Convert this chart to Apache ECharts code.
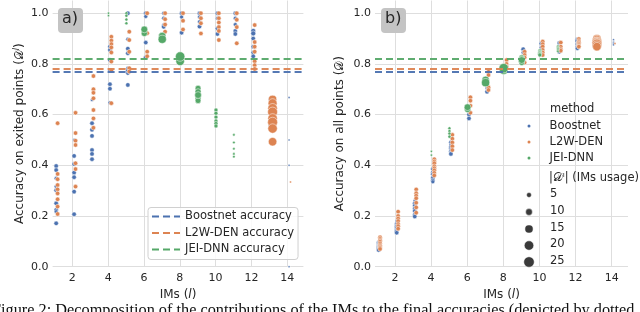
<!DOCTYPE html>
<html><head><meta charset="utf-8">
<script src="https://cdn.jsdelivr.net/npm/echarts@6/dist/echarts.min.js"></script>
<style>html,body{margin:0;padding:0;background:#fff}#c{width:640px;height:312px}</style>
</head><body><div id="c"></div>
<script>
const methods = ['Boostnet', 'L2W-DEN', 'JEI-DNN'];
const finalAccuracy = [0.772, 0.779, 0.819];
const accuracyNames = ['Boostnet accuracy', 'L2W-DEN accuracy', 'JEI-DNN accuracy'];
const xTicks = [2, 4, 6, 8, 10, 12, 14];
const yTicks = [0, 0.2, 0.4, 0.6, 0.8, 1.0];
const sizeLegendValues = [5, 10, 15, 20, 25];
const captionText = 'Figure 2: Decomposition of the contributions of the IMs to the final accuracies (depicted by dotted';

// rows: [IM l, accuracy on exited points, accuracy on all points, IMs usage]
const boostnetRuns = [
  [1,0.397,0.095,4],[1,0.381,0.090,4],[1,0.349,0.086,3],[1,0.316,0.082,3],[1,0.302,0.079,4],[1,0.250,0.076,4],[1,0.224,0.073,4],[1,0.217,0.070,3],[1,0.171,0.066,4],
  [2,0.500,0.180,2],[2,0.437,0.168,4],[2,0.405,0.160,4],[2,0.371,0.153,4],[2,0.353,0.145,4],[2,0.296,0.140,4],[2,0.207,0.134,4],
  [3,0.658,0.260,2],[3,0.566,0.250,4],[3,0.540,0.240,4],[3,0.516,0.230,4],[3,0.460,0.220,4],[3,0.445,0.205,4],[3,0.424,0.198,4],
  [4,0.868,0.385,4],[4,0.855,0.372,4],[4,0.815,0.365,4],[4,0.775,0.355,3],[4,0.720,0.350,4],[4,0.702,0.340,4],[4,0.647,0.335,3],
  [5,1.000,0.490,4],[5,0.897,0.480,3],[5,0.860,0.472,4],[5,0.842,0.465,4],[5,0.783,0.460,3],[5,0.773,0.455,4],[5,0.763,0.450,3],[5,0.717,0.445,4],
  [6,1.000,0.630,4],[6,0.987,0.615,3],[6,0.884,0.600,4],[6,0.826,0.585,4],
  [7,1.000,0.740,3],[7,0.980,0.730,3],[7,0.953,0.705,3],[7,0.946,0.690,4],
  [8,1.000,0.790,4],[8,0.985,0.775,3],[8,0.923,0.770,4],
  [9,1.000,0.858,4],[9,0.985,0.845,3],[9,0.966,0.830,3],[9,0.947,0.810,4],
  [10,1.000,0.880,4],[10,0.980,0.865,3],[10,0.940,0.850,4],[10,0.918,0.842,4],
  [11,1.000,0.882,4],[11,0.980,0.870,3],[11,0.955,0.860,3],[11,0.930,0.852,4],[11,0.918,0.848,4],
  [12,0.930,0.895,5],[12,0.920,0.890,5],[12,0.900,0.880,4],[12,0.868,0.875,4],[12,0.845,0.868,4],[12,0.830,0.862,4],
  [13,0.660,0.895,6],[13,0.630,0.890,6],[13,0.605,0.885,6],[13,0.580,0.880,5],[13,0.560,0.875,6],[13,0.545,0.870,6],
  [14,0.667,0.895,0.3],[14,0.500,0.885,0.3],[14,0.400,0.880,0.3],[14,0.000,0.875,0.3]
];
const l2wRuns = [
  [1,0.566,0.116,4],[1,0.366,0.110,4],[1,0.345,0.104,4],[1,0.322,0.099,4],[1,0.305,0.092,4],[1,0.289,0.085,4],[1,0.266,0.080,4],[1,0.237,0.075,4],[1,0.208,0.070,4],
  [2,0.607,0.217,4],[2,0.527,0.200,4],[2,0.497,0.190,4],[2,0.480,0.180,4],[2,0.408,0.168,4],[2,0.385,0.160,4],[2,0.316,0.150,4],
  [3,0.752,0.305,4],[3,0.700,0.290,4],[3,0.686,0.280,4],[3,0.664,0.270,4],[3,0.618,0.252,4],[3,0.585,0.234,4],[3,0.548,0.213,4],
  [4,0.907,0.424,4],[4,0.892,0.415,4],[4,0.878,0.408,4],[4,0.865,0.396,4],[4,0.845,0.388,4],[4,0.809,0.380,4],[4,0.773,0.370,4],[4,0.645,0.360,4],
  [5,0.927,0.520,4],[5,0.894,0.505,4],[5,0.848,0.490,4],[5,0.783,0.475,4],[5,0.770,0.460,4],
  [6,1.000,0.668,4],[6,0.921,0.655,4],[6,0.848,0.635,4],[6,0.830,0.607,4],
  [7,1.000,0.769,4],[7,0.976,0.756,4],[7,0.955,0.708,4],[7,0.927,0.697,4],
  [8,1.000,0.815,4],[8,0.970,0.800,4],[8,0.936,0.790,4],
  [9,1.000,0.848,4],[9,0.980,0.835,4],[9,0.960,0.825,4],[9,0.920,0.805,4],
  [10,1.000,0.888,4],[10,0.980,0.878,4],[10,0.963,0.868,4],[10,0.945,0.855,4],[10,0.930,0.845,4],[10,0.894,0.835,4],
  [11,1.000,0.884,4],[11,0.974,0.868,4],[11,0.945,0.858,4],[11,0.881,0.852,4],
  [12,0.953,0.898,4],[12,0.886,0.890,4],[12,0.868,0.885,4],[12,0.848,0.880,4],[12,0.810,0.875,4],[12,0.795,0.870,4],[12,0.780,0.868,4],
  [13,0.660,0.900,15],[13,0.645,0.895,18],[13,0.625,0.888,20],[13,0.610,0.885,22],[13,0.585,0.882,20],[13,0.570,0.878,22],[13,0.545,0.872,20],[13,0.493,0.868,16],
  [14,0.334,0.880,0.3]
];
const jeiRuns = [
  [4,1.000,0.455,0.5],[4,0.990,0.440,0.5],
  [5,1.000,0.546,1.5],[5,0.990,0.535,1.5],[5,0.975,0.525,1.5],[5,0.960,0.513,1.5],
  [6,0.920,0.620,8],[6,0.936,0.629,10],
  [7,0.910,0.737,12],[7,0.897,0.726,15],
  [8,0.810,0.775,16],[8,0.829,0.783,20],
  [9,0.704,0.825,7],[9,0.690,0.820,8],[9,0.665,0.810,8],[9,0.655,0.805,7],[9,0.677,0.815,10],
  [10,0.618,0.852,3],[10,0.605,0.848,3],[10,0.590,0.845,3],[10,0.575,0.842,3],[10,0.565,0.838,3],[10,0.555,0.835,3],
  [11,0.520,0.870,0.8],[11,0.490,0.865,0.8],[11,0.465,0.860,0.8],[11,0.445,0.855,0.8],[11,0.434,0.850,0.8]
];
const runsByMethod = [boostnetRuns, l2wRuns, jeiRuns];

// ---- styling ----
const COLORS = ['#4C72B0', '#DD8452', '#55A868'];
const X_OFFSET = [0.1, 0.18, 0.02];
const FONT = 'DejaVu Sans';
const TXT = '#262626';
const GRID_COLOR = '#dedede';
const sizeFn = u => Math.sqrt(3 + u * 4.3);
const DASH_ICON = 'path://M0 0h7v2H0zM11 0h7v2h-7zM22 0h6v2h-6z';

const chart = echarts.init(document.getElementById('c'), null, {renderer: 'canvas'});

const grids = [
  {left: 52.6, top: 0.5, width: 250.8, height: 266.2},
  {left: 375, top: 0.5, width: 253, height: 266.2}
];
const yNames = [
  'Accuracy on exited points ({d|𝒟}{s|l})',
  'Accuracy on all points ({d|𝒟})'
];
const yNameGaps = [26, 29.5];

const xAxes = grids.map((g, i) => ({
  gridIndex: i, type: 'value', min: 0.9, max: 14.9,
  axisLine: {show: false}, axisTick: {show: false, customValues: xTicks},
  axisLabel: {customValues: xTicks, color: TXT, fontFamily: FONT, fontSize: 11, margin: 6},
  splitLine: {show: true, lineStyle: {color: GRID_COLOR, width: 1}},
  name: 'IMs ({i|l})', nameLocation: 'middle', nameGap: 20,
  nameTextStyle: {color: TXT, fontFamily: FONT, fontSize: 12, rich: {i: {fontStyle: 'italic', fontFamily: FONT, fontSize: 12, color: TXT}}}
}));
const yAxes = grids.map((g, i) => ({
  gridIndex: i, type: 'value', min: 0, max: 1.05,
  axisLine: {show: false}, axisTick: {show: false, customValues: yTicks},
  axisLabel: {customValues: yTicks, color: TXT, fontFamily: FONT, fontSize: 11, margin: 4, formatter: v => v.toFixed(1)},
  splitLine: {show: true, lineStyle: {color: GRID_COLOR, width: 1}},
  name: yNames[i], nameLocation: 'middle', nameGap: yNameGaps[i],
  nameTextStyle: {color: TXT, fontFamily: FONT, fontSize: 12,
    rich: {d: {fontFamily: FONT, fontSize: 12, color: TXT},
           s: {fontFamily: FONT, fontSize: 8, color: TXT, fontStyle: 'italic', verticalAlign: 'top', padding: [0, 0, 6, 0]}}}
}));

const series = [];
// accuracy reference lines
for (let p = 0; p < 2; p++) {
  methods.forEach((m, i) => {
    series.push({
      type: 'line', name: accuracyNames[i], xAxisIndex: p, yAxisIndex: p,
      data: [], symbol: 'none', z: 3,
      lineStyle: {color: COLORS[i], width: 2, type: [7, 4]},
      itemStyle: {color: COLORS[i]},
      markLine: {
        silent: true, symbol: ['none', 'none'], label: {show: false}, animation: false,
        lineStyle: {color: COLORS[i], width: 2, type: [7, 4], opacity: 0.95},
        data: [{yAxis: finalAccuracy[i]}]
      }
    });
  });
}
// scatter points
for (let p = 0; p < 2; p++) {
  methods.forEach((m, i) => {
    series.push({
      type: 'scatter', name: m, xAxisIndex: p, yAxisIndex: p, z: 4,
      data: runsByMethod[i].map(r => [r[0] + X_OFFSET[i], p === 0 ? r[1] : r[2], r[3]]),
      symbol: 'circle',
      symbolSize: v => sizeFn(v[2]),
      itemStyle: {color: COLORS[i], borderColor: '#ffffff', borderWidth: 0.5, opacity: 1}
    });
  });
}

const graphics = [];
// panel labels
[['a)', 58, 8], ['b)', 381, 8]].forEach(([t, x, y]) => {
  graphics.push({type: 'rect', left: x, top: y, shape: {width: 25, height: 25, r: 4}, style: {fill: '#c4c4c4'}, z: 10});
  graphics.push({type: 'text', left: x + 4, top: y + 3, style: {text: t, font: '16px "DejaVu Sans"', fill: TXT}, z: 11});
});
// size legend
graphics.push({type: 'text', left: 550, top: 103, style: {text: 'method', font: '11.5px "DejaVu Sans"', fill: TXT}, z: 11});
graphics.push({type: 'text', left: 549, top: 172, style: {text: '|𝒟ˡ| (IMs usage)', font: '11.5px "DejaVu Sans"', fill: TXT}, z: 11});
const sizeRowY = [195, 212, 229, 245.5, 262];
sizeLegendValues.forEach((u, k) => {
  graphics.push({type: 'circle', shape: {cx: 529, cy: sizeRowY[k], r: sizeFn(u) / 2}, style: {fill: '#3a3a3a', stroke: '#fff', lineWidth: 0.5}, z: 11});
  graphics.push({type: 'text', left: 550, top: sizeRowY[k] - 7, style: {text: String(u), font: '11.5px "DejaVu Sans"', fill: TXT}, z: 11});
});
// caption
graphics.push({type: 'text', left: -8, top: 303, style: {text: captionText, font: '16.3px "Liberation Serif"', fill: '#111'}, z: 11});

chart.setOption({
  animation: false,
  backgroundColor: '#ffffff',
  grid: grids,
  xAxis: xAxes,
  yAxis: yAxes,
  legend: [
    {
      data: accuracyNames, orient: 'vertical', left: 148, top: 207.5,
      icon: DASH_ICON, itemWidth: 28, itemHeight: 2, itemGap: 4.5, padding: [3, 4, 4, 4],
      backgroundColor: 'rgba(255,255,255,0.85)', borderColor: '#d0d0d0', borderWidth: 1, borderRadius: 3,
      textStyle: {color: TXT, fontFamily: FONT, fontSize: 11.5}, selectedMode: false
    },
    {
      data: methods, orient: 'vertical', left: 520.5, top: 115,
      itemWidth: 31, itemHeight: 5, itemGap: 4, icon: 'circle',
      textStyle: {color: TXT, fontFamily: FONT, fontSize: 11.5}, selectedMode: false
    }
  ],
  series: series,
  graphic: graphics
});
</script></body></html>
